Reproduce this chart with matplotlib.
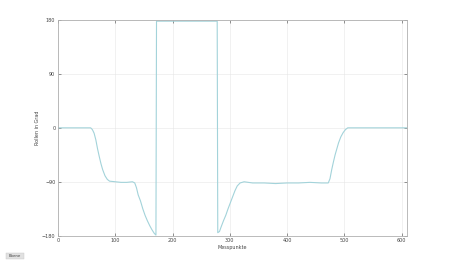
import matplotlib
matplotlib.use("Agg")
import matplotlib.pyplot as plt
from matplotlib.patches import Rectangle

# Data
messpunkte = [0, 57, 60, 63, 66, 69, 72, 75, 78, 82, 86, 90, 100, 110, 120, 130, 134,
              137, 140, 144, 148, 152, 156, 160, 164, 168, 171, 172, 278, 279, 282, 285,
              289, 293, 297, 301, 305, 309, 313, 318, 325, 340, 360, 380, 400, 420, 440,
              460, 472, 475, 478, 481, 484, 487, 490, 494, 498, 502, 506, 520, 560, 609]
rollen = [0, 0, -3, -9, -20, -35, -48, -60, -70, -80, -86, -89, -90, -91, -91, -90, -92,
          -100, -112, -122, -135, -146, -155, -163, -170, -176, -179, 178, 178, -175, -173,
          -165, -155, -146, -135, -125, -115, -105, -97, -92, -90, -92, -92, -93, -92, -92,
          -91, -92, -92, -85, -70, -57, -45, -35, -25, -15, -8, -3, 0, 0, 0, 0]
xticks = [0, 100, 200, 300, 400, 500, 600]
yticks = [-180, -90, 0, 90, 180]

fig = plt.figure(figsize=(4.5, 2.65), dpi=100)
fig.patch.set_facecolor("white")
ax = fig.add_axes([0.129, 0.1106, 0.776, 0.814])
ax.plot(messpunkte, rollen, color="#a3d3da", linewidth=0.8)
ax.set_xlim(0, 610)
ax.set_ylim(-180, 180)
ax.set_xticks(xticks)
ax.set_yticks(yticks)
ax.tick_params(direction="in", length=2, width=0.4, labelsize=3.5, colors="#444444",
               top=True, right=True, pad=2)
ax.grid(True, color="#e6e6e6", linewidth=0.4)
for s in ax.spines.values():
    s.set_color("#b0b0b0")
    s.set_linewidth(0.6)
ax.set_xlabel("Messpunkte", fontsize=3.5, labelpad=1, color="#444444")
ax.set_ylabel("Rollen in Grad", fontsize=3.5, labelpad=1, color="#444444")

# "Ebene" button
fig.add_artist(Rectangle((6/450, 1-258.5/265), 18/450, 5.5/265, transform=fig.transFigure,
                         facecolor="#e1e1e1", edgecolor="#c8c8c8", linewidth=0.3))
fig.text(15/450, 1-255.8/265, "Ebene", fontsize=2.8, ha="center", va="center", color="#444444")

fig.savefig("out.png", dpi=100)
